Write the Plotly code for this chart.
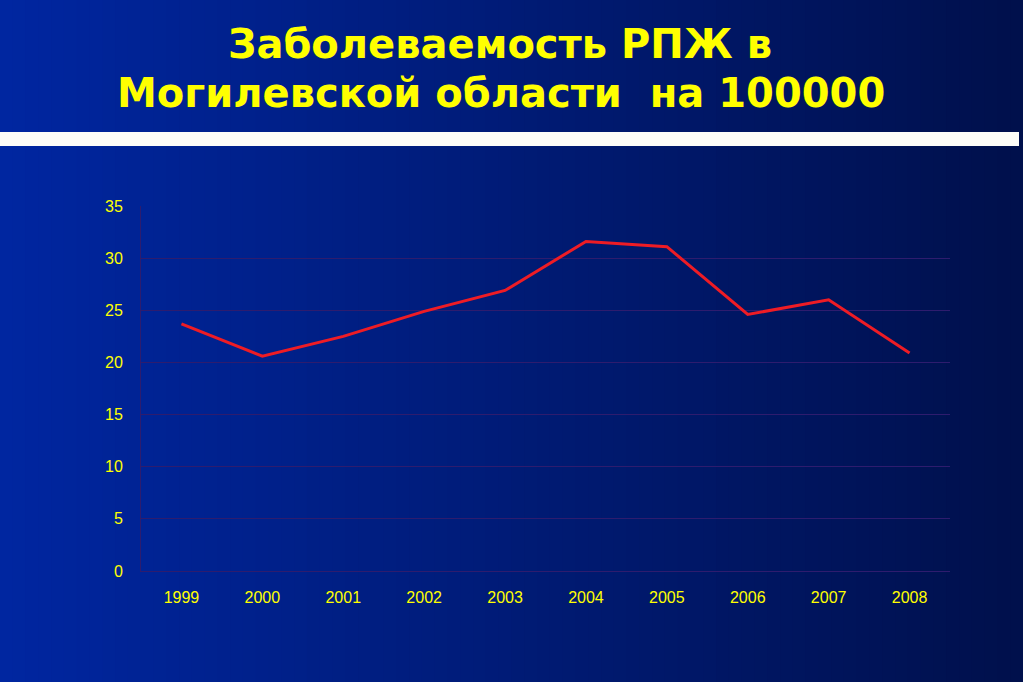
import plotly.graph_objects as go

years = ["1999", "2000", "2001", "2002", "2003", "2004", "2005", "2006", "2007", "2008"]
incidence = [23.7, 20.6, 22.5, 24.9, 26.9, 31.6, 31.1, 24.6, 26.0, 20.9]
y_ticks = [0, 5, 10, 15, 20, 25, 30, 35]
title_line1 = "Заболеваемость РПЖ в"
title_line2 = "Могилевской области  на 100000"

W, H = 1023, 682
L, R, T, B = 141, 950, 206, 571

def px_x(px):
    return (px - L) / (R - L)

def px_y(py):
    return (B - py) / (B - T)

fig = go.Figure()
fig.add_trace(go.Scatter(
    x=years, y=incidence, mode="lines",
    line=dict(color="#ee1c25", width=3),
    hoverinfo="x+y", showlegend=False,
))

shapes = []
n = 80
c0 = (0, 38, 160)
c1 = (0, 16, 76)
for i in range(n):
    t = i / (n - 1)
    c = tuple(round(c0[k] + (c1[k] - c0[k]) * t) for k in range(3))
    x0 = i * W / n
    x1 = (i + 1) * W / n + 1
    shapes.append(dict(type="rect", xref="paper", yref="paper",
                       x0=px_x(x0), x1=px_x(x1), y0=px_y(H + 2), y1=px_y(-2),
                       fillcolor="rgb(%d,%d,%d)" % c, line=dict(width=0), layer="below"))
# white band
shapes.append(dict(type="rect", xref="paper", yref="paper",
                   x0=px_x(0), x1=px_x(1019), y0=px_y(146), y1=px_y(132),
                   fillcolor="#fdfdf8", line=dict(width=0), layer="below"))

annotations = [
    dict(text="<b>" + title_line1 + "</b>", x=px_x(500), y=px_y(44), xref="paper", yref="paper",
         showarrow=False, xanchor="center", yanchor="middle",
         font=dict(family="DejaVu Sans", size=40, color="#ffff00")),
    dict(text="<b>" + title_line2 + "</b>", x=px_x(501), y=px_y(93), xref="paper", yref="paper",
         showarrow=False, xanchor="center", yanchor="middle",
         font=dict(family="DejaVu Sans", size=40, color="#ffff00")),
]

grid_col = "#2e1c6e"
fig.update_layout(
    width=W, height=H,
    margin=dict(l=L, r=W - R, t=T, b=H - B, pad=0),
    paper_bgcolor="rgb(0,38,160)",
    plot_bgcolor="rgba(0,0,0,0)",
    shapes=shapes,
    annotations=annotations,
    showlegend=False,
    xaxis=dict(
        type="category", range=[-0.5, 9.5],
        showgrid=False, showline=True, linecolor=grid_col, linewidth=1,
        ticks="", ticklabelstandoff=12,
        tickfont=dict(family="Liberation Sans, Arial", size=16, color="#ffff00"),
        fixedrange=True,
    ),
    yaxis=dict(
        range=[0, 35], tickvals=y_ticks,
        showgrid=True, gridcolor=grid_col, gridwidth=1,
        showline=True, linecolor=grid_col, linewidth=1,
        zeroline=False, ticks="", ticklabelstandoff=14,
        tickfont=dict(family="Liberation Sans, Arial", size=16, color="#ffff00"),
        fixedrange=True,
    ),
)

fig.write_html("out.html",
               config={"displayModeBar": False},
               post_script="document.body.style.margin='0';document.body.style.overflow='hidden';document.body.style.background='#001050';")
